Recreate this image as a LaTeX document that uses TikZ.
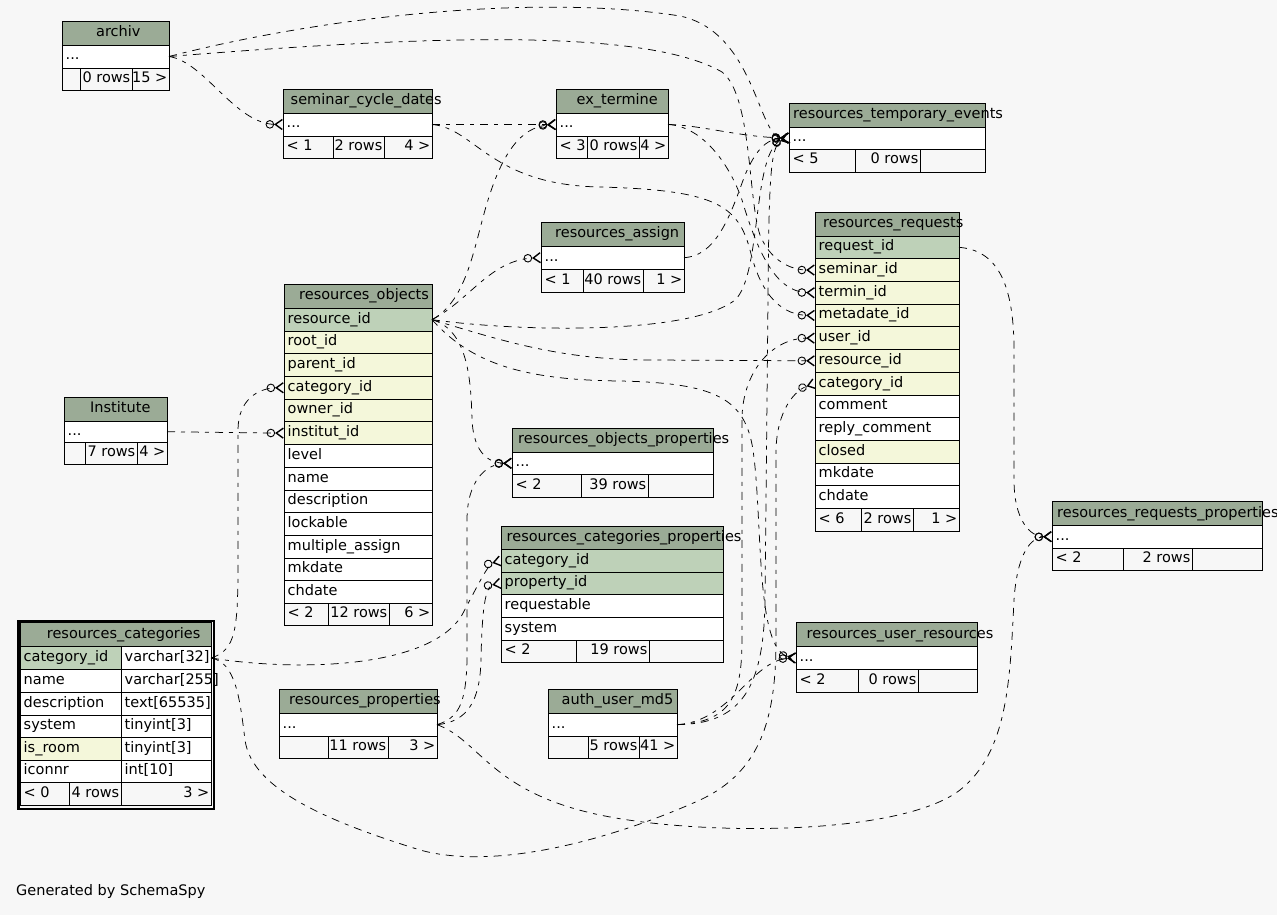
\documentclass[tikz,border=0pt]{standalone}
\usepackage{fontspec}
\setmainfont{DejaVu Sans}
\usetikzlibrary{arrows.meta}
\definecolor{bgc}{HTML}{F7F7F7}
\definecolor{headc}{HTML}{9BAB96}
\definecolor{pkc}{HTML}{BED1B8}
\definecolor{idxc}{HTML}{F4F7DA}
\tikzset{
  cellbox/.style={draw=black, line width=0.8pt, anchor=north west, inner sep=0pt, outer sep=0pt},
  txt/.style={font=\fontsize{14.5}{17}\selectfont, inner sep=0pt, text height=10.5pt, text depth=3.5pt},
  rel/.style={line width=0.75pt, dash pattern=on 8pt off 6pt on 4pt off 6pt,
    -{Circle[open,length=8.5pt,width=8.5pt,line width=0.9pt,sep=0pt] Straight Barb[reversed,length=7pt,width=10pt,line width=1.4pt]}},
}
% name, x, y, w, h, fill, text
\newcommand\mkl[7]{%
  \node[cellbox,fill=#6,minimum width=#4pt,minimum height=#5pt] (#1) at (#2,#3) {};
  \node[txt,anchor=west] (#1-t) at ([xshift=3.5pt]#1.west) {#7};}
\newcommand\mkr[7]{%
  \node[cellbox,fill=#6,minimum width=#4pt,minimum height=#5pt] (#1) at (#2,#3) {};
  \node[txt,anchor=east] (#1-t) at ([xshift=-1.5pt]#1.east) {#7};}
% name, x, y, w, h, title x, title
\newcommand\mkh[7]{%
  \node[cellbox,fill=headc,minimum width=#4pt,minimum height=#5pt] (#1) at (#2,#3) {};
  \node[txt,anchor=west] (#1-t) at (#6,{#3+#5/2}) {#7};}
\begin{document}
\begin{tikzpicture}[x=1pt,y=-1pt]
\fill[bgc] (0,0) rectangle (1277,915);
\useasboundingbox (0,0) rectangle (1277,915);

% archiv
\mkh{arc-h}{62}{21}{107}{24}{96}{archiv}
\mkl{arc-r}{62}{45}{107}{23}{white}{...}
\mkl{arc-f1}{62}{68}{18}{22}{bgc}{}
\mkr{arc-f2}{80}{68}{52}{22}{bgc}{0 rows}
\mkr{arc-f3}{132}{68}{37}{22}{bgc}{15 >}

% seminar_cycle_dates
\mkh{scd-h}{283}{89}{149}{24}{290.5}{seminar\_cycle\_dates}
\mkl{scd-r}{283}{113}{149}{23}{white}{...}
\mkl{scd-f1}{283}{136}{50}{22}{bgc}{< 1}
\mkr{scd-f2}{333}{136}{51}{22}{bgc}{2 rows}
\mkr{scd-f3}{384}{136}{48}{22}{bgc}{4 >}

% ex_termine
\mkh{ext-h}{556}{89}{112}{24}{576.5}{ex\_termine}
\mkl{ext-r}{556}{113}{112}{23}{white}{...}
\mkl{ext-f1}{556}{136}{31}{22}{bgc}{< 3}
\mkr{ext-f2}{587}{136}{52}{22}{bgc}{0 rows}
\mkr{ext-f3}{639}{136}{29}{22}{bgc}{4 >}

% resources_temporary_events
\mkh{rte-h}{789}{103}{196}{24}{793}{resources\_temporary\_events}
\mkl{rte-r}{789}{127}{196}{22}{white}{...}
\mkl{rte-f1}{789}{149}{66}{23}{bgc}{< 5}
\mkr{rte-f2}{855}{149}{65}{23}{bgc}{0 rows}
\mkr{rte-f3}{920}{149}{65}{23}{bgc}{}

% resources_requests
\mkh{rrq-h}{815}{212}{144}{24}{823}{resources\_requests}
\mkl{rrq-request}{815}{236}{144}{22.7}{pkc}{request\_id}
\mkl{rrq-seminar}{815}{258.7}{144}{22.7}{idxc}{seminar\_id}
\mkl{rrq-termin}{815}{281.4}{144}{22.7}{idxc}{termin\_id}
\mkl{rrq-metadate}{815}{304.1}{144}{22.7}{idxc}{metadate\_id}
\mkl{rrq-user}{815}{326.8}{144}{22.7}{idxc}{user\_id}
\mkl{rrq-resource}{815}{349.5}{144}{22.7}{idxc}{resource\_id}
\mkl{rrq-category}{815}{372.2}{144}{22.7}{idxc}{category\_id}
\mkl{rrq-comment}{815}{394.9}{144}{22.7}{white}{comment}
\mkl{rrq-reply}{815}{417.6}{144}{22.7}{white}{reply\_comment}
\mkl{rrq-closed}{815}{440.3}{144}{22.7}{idxc}{closed}
\mkl{rrq-mkdate}{815}{463}{144}{22.7}{white}{mkdate}
\mkl{rrq-chdate}{815}{485.7}{144}{22.7}{white}{chdate}
\mkl{rrq-f1}{815}{508.4}{46}{22.7}{bgc}{< 6}
\mkr{rrq-f2}{861}{508.4}{52}{22.7}{bgc}{2 rows}
\mkr{rrq-f3}{913}{508.4}{46}{22.7}{bgc}{1 >}

% resources_assign
\mkh{ras-h}{541}{222.7}{143}{23.3}{555}{resources\_assign}
\mkl{ras-r}{541}{246}{143}{23.3}{white}{...}
\mkl{ras-f1}{541}{269.3}{42}{22.7}{bgc}{< 1}
\mkr{ras-f2}{583}{269.3}{60}{22.7}{bgc}{40 rows}
\mkr{ras-f3}{643}{269.3}{41}{22.7}{bgc}{1 >}

% resources_objects
\mkh{rob-h}{284}{284.3}{148}{24}{299}{resources\_objects}
\mkl{rob-resource}{284}{308.3}{148}{22.7}{pkc}{resource\_id}
\mkl{rob-root}{284}{331}{148}{22.7}{idxc}{root\_id}
\mkl{rob-parent}{284}{353.7}{148}{22.7}{idxc}{parent\_id}
\mkl{rob-category}{284}{376.4}{148}{22.7}{idxc}{category\_id}
\mkl{rob-owner}{284}{399.1}{148}{22.7}{idxc}{owner\_id}
\mkl{rob-institut}{284}{421.8}{148}{22.7}{idxc}{institut\_id}
\mkl{rob-level}{284}{444.5}{148}{22.7}{white}{level}
\mkl{rob-name}{284}{467.2}{148}{22.7}{white}{name}
\mkl{rob-desc}{284}{489.9}{148}{22.7}{white}{description}
\mkl{rob-lock}{284}{512.6}{148}{22.7}{white}{lockable}
\mkl{rob-multi}{284}{535.3}{148}{22.7}{white}{multiple\_assign}
\mkl{rob-mkdate}{284}{558}{148}{22.7}{white}{mkdate}
\mkl{rob-chdate}{284}{580.7}{148}{22.7}{white}{chdate}
\mkl{rob-f1}{284}{603.4}{44}{22}{bgc}{< 2}
\mkr{rob-f2}{328}{603.4}{61}{22}{bgc}{12 rows}
\mkr{rob-f3}{389}{603.4}{43}{22}{bgc}{6 >}

% Institute
\mkh{ins-h}{64}{397}{103}{24}{90}{Institute}
\mkl{ins-r}{64}{421}{103}{21.5}{white}{...}
\mkl{ins-f1}{64}{442.5}{21}{21.5}{bgc}{}
\mkr{ins-f2}{85}{442.5}{52}{21.5}{bgc}{7 rows}
\mkr{ins-f3}{137}{442.5}{30}{21.5}{bgc}{4 >}

% resources_objects_properties
\mkh{rop-h}{512}{428.3}{201}{24}{518}{resources\_objects\_properties}
\mkl{rop-r}{512}{452.3}{201}{22}{white}{...}
\mkl{rop-f1}{512}{474.3}{69}{23}{bgc}{< 2}
\mkr{rop-f2}{581}{474.3}{67}{23}{bgc}{39 rows}
\mkr{rop-f3}{648}{474.3}{65}{23}{bgc}{}

% resources_categories_properties
\mkh{rcp-h}{501}{526}{222}{23.3}{506.5}{resources\_categories\_properties}
\mkl{rcp-category}{501}{549.3}{222}{23}{pkc}{category\_id}
\mkl{rcp-property}{501}{572.3}{222}{22}{pkc}{property\_id}
\mkl{rcp-requestable}{501}{594.3}{222}{23}{white}{requestable}
\mkl{rcp-system}{501}{617.3}{222}{22.7}{white}{system}
\mkl{rcp-f1}{501}{640}{75}{22.3}{bgc}{< 2}
\mkr{rcp-f2}{576}{640}{73}{22.3}{bgc}{19 rows}
\mkr{rcp-f3}{649}{640}{74}{22.3}{bgc}{}

% resources_requests_properties
\mkh{rrp-h}{1052}{501.7}{210}{23.6}{1057}{resources\_requests\_properties}
\mkl{rrp-r}{1052}{525.3}{210}{22.7}{white}{...}
\mkl{rrp-f1}{1052}{548}{71}{22.3}{bgc}{< 2}
\mkr{rrp-f2}{1123}{548}{69}{22.3}{bgc}{2 rows}
\mkr{rrp-f3}{1192}{548}{70}{22.3}{bgc}{}

% resources_properties
\mkh{rpr-h}{279}{689.3}{158}{24}{289}{resources\_properties}
\mkl{rpr-r}{279}{713.3}{158}{22.7}{white}{...}
\mkl{rpr-f1}{279}{736}{49}{22.3}{bgc}{}
\mkr{rpr-f2}{328}{736}{60}{22.3}{bgc}{11 rows}
\mkr{rpr-f3}{388}{736}{49}{22.3}{bgc}{3 >}

% auth_user_md5
\mkh{aum-h}{548}{689.3}{129}{24}{561.5}{auth\_user\_md5}
\mkl{aum-r}{548}{713.3}{129}{22.7}{white}{...}
\mkl{aum-f1}{548}{736}{40}{22.3}{bgc}{}
\mkr{aum-f2}{588}{736}{51}{22.3}{bgc}{5 rows}
\mkr{aum-f3}{639}{736}{38}{22.3}{bgc}{41 >}

% resources_user_resources
\mkh{rur-h}{796}{622.3}{181}{24.4}{806.5}{resources\_user\_resources}
\mkl{rur-r}{796}{646.7}{181}{22.6}{white}{...}
\mkl{rur-f1}{796}{669.3}{62}{22.7}{bgc}{< 2}
\mkr{rur-f2}{858}{669.3}{60}{22.7}{bgc}{0 rows}
\mkr{rur-f3}{918}{669.3}{59}{22.7}{bgc}{}

% resources_categories
\node[draw=black,line width=2.5pt,anchor=north west,inner sep=0pt,minimum width=195.4pt,minimum height=188.3pt] (rca-frame) at (17.3,619.5) {};
\mkh{rca-h}{20}{622.3}{191}{24.4}{46.7}{resources\_categories}
\mkl{rca-cat}{20}{646.7}{101}{22.6}{pkc}{category\_id}
\mkl{rca-cat2}{121}{646.7}{90}{22.6}{white}{varchar[32]}
\mkl{rca-name}{20}{669.3}{101}{22.7}{white}{name}
\mkl{rca-name2}{121}{669.3}{90}{22.7}{white}{varchar[255]}
\mkl{rca-desc}{20}{692}{101}{23}{white}{description}
\mkl{rca-desc2}{121}{692}{90}{23}{white}{text[65535]}
\mkl{rca-sys}{20}{715}{101}{22.3}{white}{system}
\mkl{rca-sys2}{121}{715}{90}{22.3}{white}{tinyint[3]}
\mkl{rca-room}{20}{737.3}{101}{22.7}{idxc}{is\_room}
\mkl{rca-room2}{121}{737.3}{90}{22.7}{white}{tinyint[3]}
\mkl{rca-icon}{20}{760}{101}{22.3}{white}{iconnr}
\mkl{rca-icon2}{121}{760}{90}{22.3}{white}{int[10]}
\mkl{rca-f1}{20}{782.3}{49}{22.7}{bgc}{< 0}
\mkr{rca-f2}{69}{782.3}{52}{22.7}{bgc}{4 rows}
\mkr{rca-f3}{121}{782.3}{90}{22.7}{bgc}{3 >}

\node[txt,anchor=west] (gen) at (16,892) {Generated by SchemaSpy};

% relationships
\draw[rel] (arc-r.east) .. controls (205,62) and (235,124) .. (scd-r.west);
\draw[rel] (arc-r.east) .. controls (330,15) and (540,-6) .. (680,16) .. controls (755,32) and (758,137) .. (rte-r.west);
\draw[rel] (arc-r.east) .. controls (400,38) and (640,25) .. (722,72) .. controls (752,95) and (748,200) .. (760,235) .. controls (770,260) and (790,270) .. (rrq-seminar.west);
\draw[rel] (scd-r.east) -- (ext-r.west);
\draw[rel] (scd-r.east) .. controls (475,128) and (490,185) .. (600,187) .. controls (715,190) and (738,205) .. (750,250) .. controls (762,300) and (785,315) .. (rrq-metadate.west);
\draw[rel] (ext-r.east) .. controls (700,125) and (740,137) .. (rte-r.west);
\draw[rel] (ext-r.east) .. controls (700,126) and (728,160) .. (742,200) .. controls (757,250) and (775,292) .. (rrq-termin.west);
\draw[rel] (ras-r.east) .. controls (718,256) and (732,210) .. (745,175) .. controls (755,152) and (765,139) .. (rte-r.west);
\draw[rel] (rob-resource.east) .. controls (520,332) and (690,335) .. (735,300) .. controls (762,275) and (752,150) .. (rte-r.west);
\draw[rel] (rob-resource.east) .. controls (500,340) and (560,360) .. (650,360) -- (rrq-resource.west);
\draw[rel] (rob-resource.east) .. controls (470,300) and (490,260) .. (ras-r.west);
\draw[rel] (rob-resource.east) .. controls (468,300) and (474,245) .. (488,200) .. controls (502,155) and (520,127) .. (ext-r.west);
\draw[rel] (rob-resource.east) .. controls (468,330) and (471,380) .. (472,420) .. controls (474,455) and (490,463) .. (rop-r.west);
\draw[rel] (rob-resource.east) .. controls (470,362) and (520,380) .. (620,381) .. controls (715,383) and (745,398) .. (753,450) .. controls (763,520) and (755,650) .. (rur-r.west);
\draw[rel] (aum-r.east) .. controls (730,722) and (752,660) .. (rur-r.west);
\draw[rel] (aum-r.east) .. controls (728,722) and (742,700) .. (742,640) -- (742,420) .. controls (742,372) and (772,338) .. (rrq-user.west);
\draw[rel] (aum-r.east) .. controls (740,724) and (764,690) .. (765,600) -- (768,300) .. controls (769,180) and (770,145) .. (rte-r.west);
\draw[rel] (rrq-request.east) .. controls (995,250) and (1014,280) .. (1014,350) -- (1014,480) .. controls (1014,520) and (1030,537) .. (rrp-r.west);
\draw[rel] (rpr-r.east) .. controls (480,740) and (490,792) .. (600,815) .. controls (700,836) and (900,836) .. (960,790) .. controls (1008,752) and (1010,680) .. (1014,600) .. controls (1017,555) and (1030,537) .. (rrp-r.west);
\draw[rel] (rpr-r.east) .. controls (458,718) and (466,705) .. (467,660) -- (467,520) .. controls (467,482) and (485,464) .. (rop-r.west);
\draw[rel] (rpr-r.east) .. controls (468,722) and (480,700) .. (481,660) .. controls (482,610) and (485,586) .. (rcp-property.west);
\draw[rel] (rca-cat2.east) .. controls (300,672) and (430,668) .. (462,615) .. controls (478,585) and (488,564) .. (rcp-category.west);
\draw[rel] (rca-cat2.east) .. controls (236,650) and (238,630) .. (238,560) -- (238,430) .. controls (238,400) and (258,388) .. (rob-category.west);
\draw[rel] (rca-cat2.east) .. controls (236,662) and (240,700) .. (245,740) .. controls (252,790) and (330,822) .. (420,850) .. controls (500,872) and (620,836) .. (700,800) .. controls (760,772) and (776,720) .. (776,640) -- (776,450) .. controls (777,410) and (795,390) .. (rrq-category.west);
\draw[rel] (ins-r.east) -- (rob-institut.west);
\end{tikzpicture}
\end{document}
